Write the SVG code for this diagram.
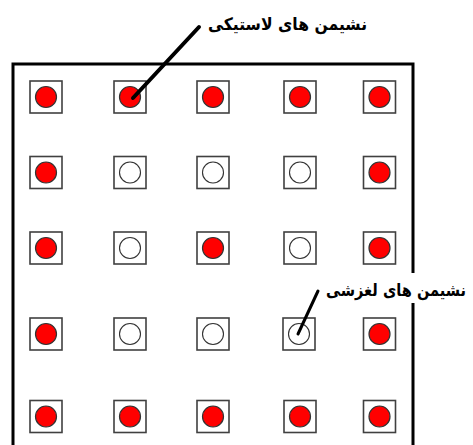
<svg xmlns="http://www.w3.org/2000/svg" width="473" height="445" viewBox="0 0 473 445">
<style>
.sq{fill:#fff;stroke:#404040;stroke-width:1.6}
.r{fill:#ff0000;stroke:#333;stroke-width:1.2}
.o{fill:#fff;stroke:#333;stroke-width:1.1}
.lbl{font-family:"DejaVu Sans","Noto Sans",sans-serif;font-size:17px;font-weight:bold;fill:#000}
.ld{stroke:#000;stroke-linecap:round;fill:none}
.frame{fill:none;stroke:#000;stroke-width:3}
</style>
<rect width="473" height="445" fill="#fff"/>
<path class="frame" d="M13 445 V64 H413 V273 M413 303 V445"/>
<defs>
<g id="sr"><rect class="sq" x="-16" y="-16" width="32" height="32"/><circle class="r" r="10.5"/></g>
<g id="so"><rect class="sq" x="-16" y="-16" width="32" height="32"/><circle class="o" r="10.5"/></g>
</defs>
<g id="row1">
<use href="#sr" x="46" y="97"/><use href="#sr" x="130" y="97"/><use href="#sr" x="213" y="97"/><use href="#sr" x="300" y="97"/><use href="#sr" x="379.5" y="97"/>
</g>
<g id="row2">
<use href="#sr" x="46" y="172.5"/><use href="#so" x="130" y="172.5"/><use href="#so" x="213" y="172.5"/><use href="#so" x="300" y="172.5"/><use href="#sr" x="379.5" y="172.5"/>
</g>
<g id="row3">
<use href="#sr" x="46" y="248"/><use href="#so" x="130" y="248"/><use href="#sr" x="213" y="248"/><use href="#so" x="300" y="248"/><use href="#sr" x="379.5" y="248"/>
</g>
<g id="row4">
<use href="#sr" x="46" y="334"/><use href="#so" x="130" y="334"/><use href="#so" x="213" y="334"/><use href="#so" x="299" y="334"/><use href="#sr" x="379.5" y="334"/>
</g>
<g id="row5">
<use href="#sr" x="46" y="416.5"/><use href="#sr" x="130" y="416.5"/><use href="#sr" x="213" y="416.5"/><use href="#sr" x="300" y="416.5"/><use href="#sr" x="379.5" y="416.5"/>
</g>
<g id="connectors">
<line class="ld" x1="199" y1="27" x2="133" y2="98" stroke-width="4"/>
<line class="ld" x1="318" y1="291" x2="298" y2="334" stroke-width="3"/>
</g>
<g id="label-elastic"><text class="lbl" x="367" y="30" text-anchor="end" textLength="159" lengthAdjust="spacingAndGlyphs">نشیمن های لاستیکی</text></g>
<g id="label-sliding"><text class="lbl" x="466" y="296" text-anchor="end" textLength="140" lengthAdjust="spacingAndGlyphs">نشیمن های لغزشی</text></g>
</svg>
